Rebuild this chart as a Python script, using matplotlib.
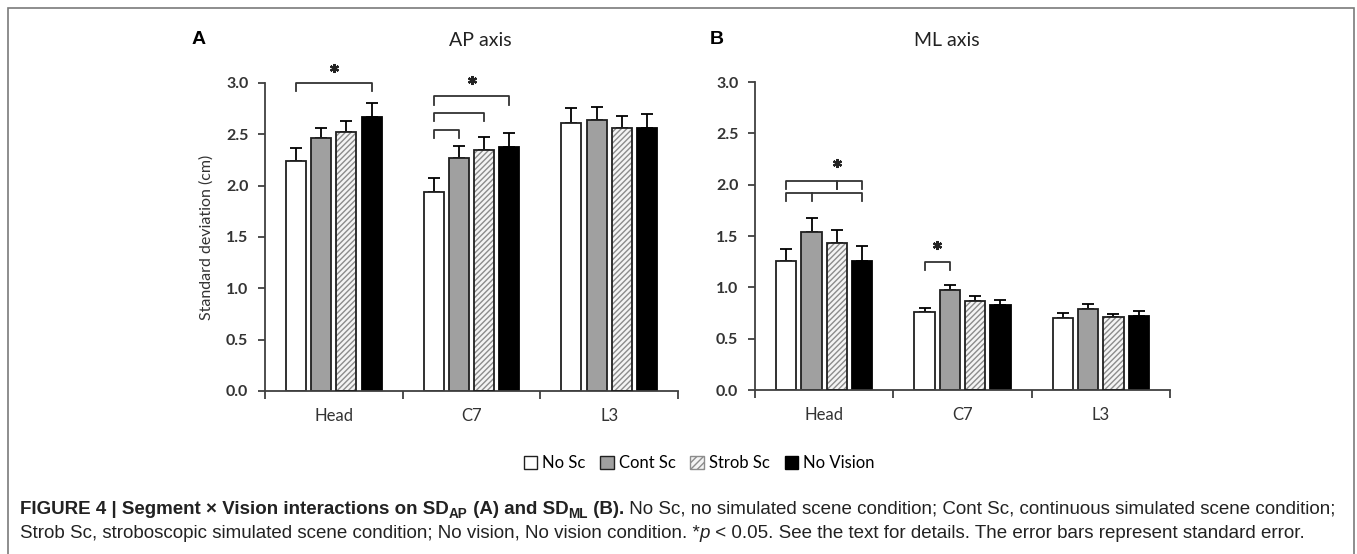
import matplotlib
matplotlib.use("Agg")
import matplotlib.pyplot as plt
from matplotlib.patches import Patch, Rectangle
import numpy as np

# data
segments = ["Head", "C7", "L3"]
conditions = ["No Sc", "Cont Sc", "Strob Sc", "No Vision"]

ap_mean = {
    "No Sc": [2.24, 1.94, 2.61],
    "Cont Sc": [2.46, 2.27, 2.64],
    "Strob Sc": [2.52, 2.35, 2.56],
    "No Vision": [2.67, 2.38, 2.56],
}
ap_err = {
    "No Sc": [0.13, 0.13, 0.15],
    "Cont Sc": [0.10, 0.12, 0.13],
    "Strob Sc": [0.11, 0.12, 0.12],
    "No Vision": [0.14, 0.13, 0.14],
}
ml_mean = {
    "No Sc": [1.26, 0.76, 0.70],
    "Cont Sc": [1.54, 0.97, 0.79],
    "Strob Sc": [1.43, 0.87, 0.71],
    "No Vision": [1.26, 0.83, 0.72],
}
ml_err = {
    "No Sc": [0.11, 0.04, 0.05],
    "Cont Sc": [0.14, 0.05, 0.05],
    "Strob Sc": [0.13, 0.05, 0.03],
    "No Vision": [0.14, 0.05, 0.05],
}

yticks = [0.0, 0.5, 1.0, 1.5, 2.0, 2.5, 3.0]

# significance brackets: (segment, from cond, to cond, level); stars: (segment, cond position, y)
ap_brackets = [(0, 0, 3, 3.0), (1, 0, 1, 2.54), (1, 0, 2, 2.71), (1, 0, 3, 2.87)]
ap_stars = [(0, 1.5, 3.15), (1, 1.5, 3.03)]
ml_brackets = [(0, 0, 2, 2.04), (0, 2, 3, 2.04), (1, 0, 1, 1.25)]
ml_stars = [(0, 2.0, 2.21), (1, 0.5, 1.41)]

fig = plt.figure(figsize=(13.57, 5.54), dpi=100)
chart_font = ["Lato", "DejaVu Sans"]
cap_font = ["Liberation Sans Narrow", "Liberation Sans", "DejaVu Sans"]

width = 0.145
step = 0.183
edge = "#202020"


def draw_panel(ax, mean, err):
    for i, c in enumerate(conditions):
        x = np.arange(len(segments)) + 0.5 + (i - 1.5) * step
        vals = mean[c]
        up = err[c]
        ax.errorbar(x, vals, yerr=[np.zeros(len(vals)), up], fmt="none",
                    ecolor="black", elinewidth=1.3, capsize=4, capthick=1.3, zorder=1)
        if c == "No Sc":
            ax.bar(x, vals, width, color="white", edgecolor=edge, linewidth=1.3, zorder=2)
        elif c == "Cont Sc":
            ax.bar(x, vals, width, color="#a0a0a0", edgecolor=edge, linewidth=1.3, zorder=2)
        elif c == "Strob Sc":
            ax.bar(x, vals, width, color="#f4f4f4", edgecolor="#8c8c8c", hatch="//////",
                   linewidth=0, zorder=2)
            ax.bar(x, vals, width, color="none", edgecolor=edge, linewidth=1.3, zorder=3)
        else:
            ax.bar(x, vals, width, color="black", edgecolor="black", linewidth=1.3, zorder=2)
    ax.set_xlim(0, 3)
    ax.set_ylim(0, 3.0)
    ax.set_yticks(yticks)
    ax.set_yticklabels([f"{v:.1f}" for v in yticks], fontsize=11.5, fontweight="bold",
                       family=chart_font, color="#333333")
    ax.set_xticks([0, 1, 2, 3])
    ax.set_xticklabels([])
    ax.set_xticks([0.5, 1.5, 2.5], minor=True)
    ax.set_xticklabels(segments, minor=True, fontsize=12, family=chart_font, color="#333333")
    ax.tick_params(axis="x", which="minor", length=0, pad=12)
    ax.tick_params(axis="x", which="major", length=6, width=1.3, color="#404040", direction="out")
    ax.tick_params(axis="y", length=5, width=1.3, color="#404040", direction="out", pad=7)
    for s in ["top", "right"]:
        ax.spines[s].set_visible(False)
    for s in ["left", "bottom"]:
        ax.spines[s].set_color("#404040")
        ax.spines[s].set_linewidth(1.3)


def draw_bracket(ax, seg, a, b, level, drop=0.08):
    xa = seg + 0.5 + (a - 1.5) * step
    xb = seg + 0.5 + (b - 1.5) * step
    ax.plot([xa, xa, xb, xb], [level - drop, level, level, level - drop],
            color="#333333", lw=1.3, clip_on=False)


def draw_star(ax, seg, pos, y):
    x = seg + 0.5 + (pos - 1.5) * step
    ax.plot([x], [y], marker=(6, 2, 0), markersize=6.5, markeredgewidth=1.6,
            color="#222222", clip_on=False)


axA = fig.add_axes([265 / 1357, 1 - 391 / 554, 413 / 1357, 308 / 554])
draw_panel(axA, ap_mean, ap_err)
for br in ap_brackets:
    draw_bracket(axA, *br)
for st in ap_stars:
    draw_star(axA, *st)
axA.set_ylabel("Standard deviation (cm)", fontsize=11.5, family=chart_font,
               color="#333333", labelpad=9)

axB = fig.add_axes([755 / 1357, 1 - 390 / 554, 415 / 1357, 308 / 554])
draw_panel(axB, ml_mean, ml_err)
for br in ml_brackets:
    draw_bracket(axB, *br)
# lower Head bracket with a middle tick at Cont Sc
xs = [0.5 + (k - 1.5) * step for k in (0, 1, 3)]
axB.plot([xs[0], xs[0], xs[2], xs[2]], [1.84, 1.92, 1.92, 1.84], color="#333333",
         lw=1.3, clip_on=False)
axB.plot([xs[1], xs[1]], [1.92, 1.84], color="#333333", lw=1.3, clip_on=False)
for st in ml_stars:
    draw_star(axB, *st)

# panel letters and titles
fig.text(192 / 1357, 1 - 40 / 554, "A", fontsize=14, fontweight="bold",
         family=["Liberation Sans", "DejaVu Sans"], va="center", ha="left")
fig.text(480 / 1357, 1 - 40 / 554, "AP axis", fontsize=14, family=chart_font,
         va="center", ha="center", color="#222222")
fig.text(710 / 1357, 1 - 40 / 554, "B", fontsize=14, fontweight="bold",
         family=["Liberation Sans", "DejaVu Sans"], va="center", ha="left")
fig.text(947 / 1357, 1 - 40 / 554, "ML axis", fontsize=14, family=chart_font,
         va="center", ha="center", color="#222222")

# legend
handles = [
    Patch(facecolor="white", edgecolor=edge, linewidth=1.0),
    Patch(facecolor="#a0a0a0", edgecolor=edge, linewidth=1.0),
    Patch(facecolor="#f4f4f4", edgecolor="#8c8c8c", hatch="/////", linewidth=1.0),
    Patch(facecolor="black", edgecolor="black", linewidth=1.0),
]
fig.legend(handles, conditions, loc="center", bbox_to_anchor=(699 / 1357, 1 - 463 / 554),
           ncol=4, frameon=False, handlelength=0.8, handleheight=0.8, handletextpad=0.3,
           columnspacing=0.9, prop={"family": chart_font, "size": 12})

# outer frame
fig.patches.append(Rectangle((8 / 1357, -0.02), (1354 - 8) / 1357, 1 - 8 / 554 + 0.02,
                             transform=fig.transFigure, fill=False, edgecolor="#7a7a7a",
                             linewidth=1.2))

# caption, written piece by piece
renderer = fig.canvas.get_renderer()

line1 = [
    ("FIGURE 4 | Segment \u00d7 Vision interactions on SD", "bold", "normal", False),
    ("AP", "bold", "normal", True),
    (" (A) and SD", "bold", "normal", False),
    ("ML", "bold", "normal", True),
    (" (B).", "bold", "normal", False),
    (" No Sc, no simulated scene condition; Cont Sc, continuous simulated scene condition;",
     "normal", "normal", False),
]
line2 = [
    ("Strob Sc, stroboscopic simulated scene condition; No vision, No vision condition. *",
     "normal", "normal", False),
    ("p", "normal", "italic", False),
    (" < 0.05. See the text for details. The error bars represent standard error.",
     "normal", "normal", False),
]


def write_line(pieces, x0, y0, size, draw=True):
    x = x0
    made = []
    for txt, weight, style, sub in pieces:
        s = size * 0.72 if sub else size
        y = y0 - 4 / 554 if sub else y0
        t = fig.text(x, y, txt, fontsize=s, fontweight=weight, fontstyle=style,
                     family=cap_font, va="baseline", ha="left", color="#222222")
        x += t.get_window_extent(renderer).width / 1357
        made.append(t)
    if not draw:
        for t in made:
            t.remove()
    return (x - x0) * 1357


# fit first caption line to the width it has in the reference
trial = 12.0
w = write_line(line1, 20 / 1357, 1 - 514 / 554, trial, draw=False)
cap_size = trial * 1318 / w
write_line(line1, 20 / 1357, 1 - 514 / 554, cap_size)
write_line(line2, 20 / 1357, 1 - 538 / 554, cap_size)

fig.savefig("out.png", dpi=100)
